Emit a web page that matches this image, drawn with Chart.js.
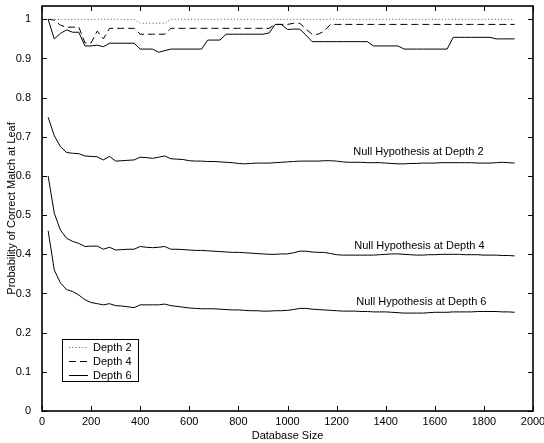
<!DOCTYPE html>
<html>
<head>
<meta charset="utf-8">
<script src="https://cdn.jsdelivr.net/npm/chart.js@4.4.1/dist/chart.umd.min.js"></script>
<style>
  body { margin: 0; background: #fff; }
  #wrap { width: 544px; height: 443px; }
</style>
</head>
<body>
<div id="wrap"><canvas id="chart1" width="544" height="443"></canvas></div>
<script>
const ctx = document.getElementById('chart1').getContext('2d');

// database sizes (x)
const sizes = [25, 50, 75, 100, 125, 150, 175, 200, 225, 250,
  275, 300, 325, 350, 375, 400, 425, 450, 475, 500,
  525, 550, 575, 600, 625, 650, 675, 700, 725, 750,
  775, 800, 825, 850, 875, 900, 925, 950, 975, 1000,
  1025, 1050, 1075, 1100, 1125, 1150, 1175, 1200, 1225, 1250,
  1275, 1300, 1325, 1350, 1375, 1400, 1425, 1450, 1475, 1500,
  1525, 1550, 1575, 1600, 1625, 1650, 1675, 1700, 1725, 1750,
  1775, 1800, 1825, 1850, 1875, 1900, 1925];

const depth2 = [1, 1, 1, 1, 1, 1, 1, 1, 1, 1,
  1, 1, 1, 1, 1, 0.99, 0.99, 0.99, 0.99, 0.99,
  1, 1, 1, 1, 1, 1, 1, 1, 1, 1,
  1, 1, 1, 1, 1, 1, 1, 1, 1, 1,
  1, 1, 1, 1, 1, 1, 1, 1, 1, 1,
  1, 1, 1, 1, 1, 1, 1, 1, 1, 1,
  1, 1, 1, 1, 1, 1, 1, 1, 1, 1,
  1, 1, 1, 1, 1, 1, 1];

const depth4 = [1, 0.998, 0.985, 0.98, 0.98, 0.98, 0.94, 0.94, 0.97, 0.95,
  0.977, 0.977, 0.977, 0.977, 0.977, 0.962, 0.962, 0.962, 0.962, 0.962,
  0.977, 0.977, 0.977, 0.977, 0.977, 0.977, 0.977, 0.977, 0.977, 0.977,
  0.977, 0.977, 0.977, 0.977, 0.977, 0.977, 0.977, 0.987, 0.987, 0.987,
  0.99, 0.99, 0.975, 0.962, 0.962, 0.97, 0.987, 0.987, 0.987, 0.987,
  0.987, 0.987, 0.987, 0.987, 0.987, 0.987, 0.987, 0.987, 0.987, 0.987,
  0.987, 0.987, 0.987, 0.987, 0.987, 0.987, 0.987, 0.987, 0.987, 0.987,
  0.987, 0.987, 0.987, 0.987, 0.987, 0.987, 0.987];

const depth6 = [1, 0.95, 0.964, 0.973, 0.967, 0.967, 0.932, 0.932, 0.934, 0.93,
  0.939, 0.939, 0.939, 0.939, 0.939, 0.924, 0.924, 0.924, 0.916, 0.92,
  0.924, 0.924, 0.924, 0.924, 0.924, 0.924, 0.947, 0.947, 0.947, 0.962,
  0.962, 0.962, 0.962, 0.962, 0.962, 0.962, 0.965, 0.987, 0.987, 0.974,
  0.975, 0.975, 0.96, 0.943, 0.943, 0.943, 0.943, 0.943, 0.943, 0.943,
  0.943, 0.943, 0.943, 0.932, 0.932, 0.932, 0.932, 0.932, 0.924, 0.924,
  0.924, 0.924, 0.924, 0.924, 0.924, 0.924, 0.954, 0.954, 0.954, 0.954,
  0.954, 0.954, 0.954, 0.95, 0.95, 0.95, 0.95];

const nullD2 = [0.75, 0.703, 0.675, 0.66, 0.658, 0.657, 0.651, 0.65, 0.649, 0.641,
  0.65, 0.638, 0.639, 0.64, 0.641, 0.648, 0.647, 0.645, 0.648, 0.651,
  0.644, 0.643, 0.642, 0.639, 0.638, 0.638, 0.637, 0.637, 0.636, 0.635,
  0.634, 0.632, 0.631, 0.632, 0.633, 0.633, 0.633, 0.634, 0.635, 0.636,
  0.637, 0.638, 0.638, 0.638, 0.638, 0.639, 0.639, 0.638, 0.636, 0.635,
  0.635, 0.635, 0.634, 0.634, 0.634, 0.633, 0.632, 0.631, 0.631, 0.632,
  0.632, 0.633, 0.633, 0.633, 0.634, 0.634, 0.634, 0.634, 0.634, 0.634,
  0.633, 0.633, 0.633, 0.634, 0.635, 0.634, 0.633];

const nullD4 = [0.6, 0.505, 0.462, 0.441, 0.433, 0.428, 0.42, 0.421, 0.421, 0.413,
  0.418, 0.411, 0.412, 0.413, 0.413, 0.42, 0.418, 0.417, 0.418, 0.42,
  0.413, 0.413, 0.412, 0.411, 0.41, 0.41, 0.409, 0.408, 0.407, 0.406,
  0.405, 0.405, 0.404, 0.403, 0.402, 0.401, 0.4, 0.4, 0.401, 0.401,
  0.404, 0.408, 0.408, 0.406, 0.405, 0.405, 0.402, 0.399, 0.398, 0.398,
  0.398, 0.398, 0.398, 0.398, 0.399, 0.4, 0.401, 0.401, 0.4, 0.399,
  0.398, 0.398, 0.399, 0.399, 0.4, 0.4, 0.4, 0.4, 0.399, 0.399,
  0.399, 0.398, 0.398, 0.398, 0.397, 0.397, 0.396];

const nullD6 = [0.46, 0.36, 0.327, 0.31, 0.305, 0.296, 0.284, 0.277, 0.274, 0.271,
  0.274, 0.269, 0.268, 0.266, 0.264, 0.271, 0.271, 0.271, 0.271, 0.273,
  0.269, 0.267, 0.265, 0.263, 0.262, 0.261, 0.261, 0.261, 0.26, 0.259,
  0.258, 0.258, 0.257, 0.256, 0.256, 0.255, 0.255, 0.256, 0.256, 0.257,
  0.259, 0.262, 0.262, 0.26, 0.259, 0.258, 0.257, 0.256, 0.255, 0.255,
  0.255, 0.254, 0.254, 0.253, 0.253, 0.253, 0.252, 0.251, 0.25, 0.25,
  0.25, 0.25, 0.251, 0.252, 0.252, 0.252, 0.253, 0.253, 0.253, 0.253,
  0.254, 0.254, 0.254, 0.254, 0.253, 0.253, 0.252];

const xTicks = [0, 200, 400, 600, 800, 1000, 1200, 1400, 1600, 1800, 2000];
const yTicks = [0, 0.1, 0.2, 0.3, 0.4, 0.5, 0.6, 0.7, 0.8, 0.9, 1];

const notes = [
  { text: 'Null Hypothesis at Depth 2', x: 1268, y: 0.662 },
  { text: 'Null Hypothesis at Depth 4', x: 1272, y: 0.4225 },
  { text: 'Null Hypothesis at Depth 6', x: 1280, y: 0.278 }
];

const pts = arr => sizes.map((x, i) => ({ x: x, y: arr[i] }));
const fontFam = '"Liberation Sans", Arial, Helvetica, sans-serif';

Chart.defaults.font.family = fontFam;
Chart.defaults.font.size = 11;
Chart.defaults.color = '#000';

// box, inward ticks, text notes and legend
const frame = {
  id: 'frame',
  afterDatasetsDraw(chart) {
    const c = chart.ctx;
    const a = chart.chartArea;
    const x = chart.scales.x, y = chart.scales.y;
    c.save();
    c.strokeStyle = '#000';
    c.lineWidth = 1;
    c.beginPath();
    xTicks.forEach(v => {
      const px = Math.round(x.getPixelForValue(v)) + 0.5;
      c.moveTo(px, a.bottom); c.lineTo(px, a.bottom - 5);
      c.moveTo(px, a.top); c.lineTo(px, a.top + 5);
    });
    yTicks.forEach(v => {
      const py = Math.round(y.getPixelForValue(v)) + 0.5;
      c.moveTo(a.left, py); c.lineTo(a.left + 5, py);
      c.moveTo(a.right, py); c.lineTo(a.right - 5, py);
    });
    c.stroke();
    c.lineWidth = 1.6;
    c.strokeRect(a.left, a.top, a.right - a.left, a.bottom - a.top);

    c.font = '11px ' + fontFam;
    c.fillStyle = '#000';
    c.textBaseline = 'middle';
    c.textAlign = 'left';
    notes.forEach(n => c.fillText(n.text, x.getPixelForValue(n.x), y.getPixelForValue(n.y)));

    // legend
    const lx = a.left + 20, ly = a.bottom - 72, lw = 76, lh = 42;
    c.fillStyle = '#fff';
    c.fillRect(lx, ly, lw, lh);
    c.lineWidth = 1;
    c.strokeStyle = '#000';
    c.strokeRect(lx + 0.5, ly + 0.5, lw, lh);
    chart.data.datasets.slice(0, 3).forEach((ds, i) => {
      const yy = ly + 8.5 + i * 14;
      c.beginPath();
      c.strokeStyle = ds.borderColor;
      c.setLineDash(ds.borderDash || []);
      c.moveTo(lx + 7, yy); c.lineTo(lx + 26, yy);
      c.stroke();
      c.setLineDash([]);
      c.fillStyle = '#000';
      c.fillText(ds.label, lx + 31, yy);
    });
    c.restore();
  }
};

new Chart(ctx, {
  type: 'line',
  data: {
    datasets: [{
      label: 'Depth 2',
      data: pts(depth2),
      borderColor: '#555',
      borderDash: [1, 2.3],
      borderWidth: 1
    }, {
      label: 'Depth 4',
      data: pts(depth4),
      borderColor: '#000',
      borderDash: [7, 4],
      borderWidth: 1
    }, {
      label: 'Depth 6',
      data: pts(depth6),
      borderColor: '#000',
      borderWidth: 1
    }, {
      label: 'null2',
      data: pts(nullD2),
      borderColor: '#000',
      borderWidth: 1
    }, {
      label: 'null4',
      data: pts(nullD4),
      borderColor: '#000',
      borderWidth: 1
    }, {
      label: 'null6',
      data: pts(nullD6),
      borderColor: '#000',
      borderWidth: 1
    }]
  },
  options: {
    responsive: false,
    animation: false,
    elements: { point: { radius: 0 }, line: { tension: 0 } },
    layout: { autoPadding: false, padding: { top: 6, right: 11, left: 0, bottom: 0 } },
    plugins: {
      legend: { display: false },
      tooltip: { enabled: false }
    },
    scales: {
      x: {
        type: 'linear',
        min: 0,
        max: 2000,
        grid: { display: false },
        border: { display: false },
        afterBuildTicks: s => { s.ticks = xTicks.map(v => ({ value: v })); },
        afterFit: s => { s.height = 32; s.paddingLeft = 0; s.paddingRight = 0; },
        ticks: { padding: -4, maxRotation: 0, autoSkip: false, callback: v => String(v) },
        title: { display: true, text: 'Database Size', padding: { top: 0, bottom: 0 } }
      },
      y: {
        type: 'linear',
        min: 0,
        max: 1.034,
        grid: { display: false },
        border: { display: false },
        afterBuildTicks: s => { s.ticks = yTicks.map(v => ({ value: v })); },
        afterFit: s => { s.width = 42; s.paddingTop = 0; s.paddingBottom = 0; },
        ticks: { padding: 3, autoSkip: false, callback: v => String(+v.toFixed(1)) },
        title: { display: true, text: 'Probability of Correct Match at Leaf', padding: { top: 5, bottom: 0 } }
      }
    }
  },
  plugins: [frame]
});
</script>
</body>
</html>
